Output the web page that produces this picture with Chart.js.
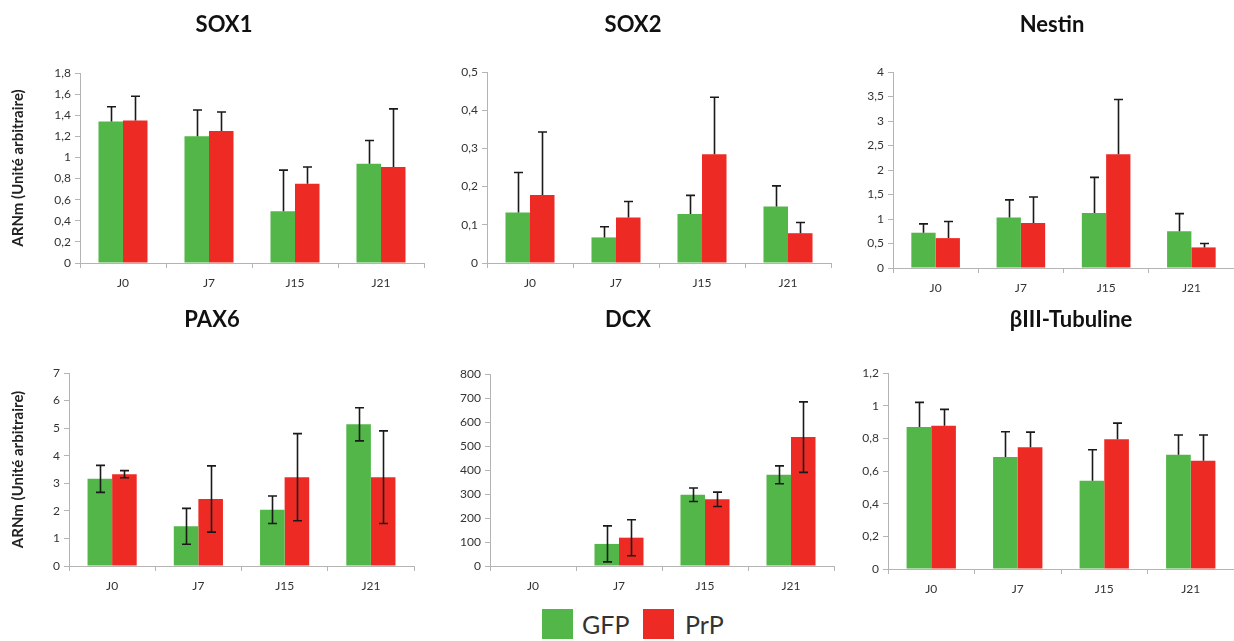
<!DOCTYPE html>
<html>
<head>
<meta charset="utf-8">
<script src="https://cdn.jsdelivr.net/npm/chart.js@4/dist/chart.umd.min.js"></script>
<style>
  html, body { margin: 0; padding: 0; background: #fff; width: 1234px; height: 641px; overflow: hidden; position: relative; font-family: Lato, "Open Sans", sans-serif; }
  canvas { position: absolute; }
  #legend { position: absolute; left: 0; top: 0; }
  .sw { position: absolute; width: 31px; height: 30px; }
  .lt { position: absolute; font-family: Lato, sans-serif; font-size: 25px; color: #333; line-height: 30px; }
</style>
</head>
<body>
<div id="legend">
  <div class="sw" style="left:542px; top:609px; background:#52b748;"></div>
  <div class="lt" style="left:582px; top:609px;">GFP</div>
  <div class="sw" style="left:643px; top:609px; background:#ed2b24;"></div>
  <div class="lt" style="left:685px; top:609px;">PrP</div>
</div>
<script>
// ---- data ----
const categories = ['J0', 'J7', 'J15', 'J21'];
const seriesNames = ['GFP', 'PrP'];
const yAxisTitle = 'ARNm (Unité arbitraire)';

const sox1GFP = [1.34, 1.20, 0.49, 0.94];
const sox1GFPErr = [0.14, 0.25, 0.39, 0.22];
const sox1PrP = [1.35, 1.25, 0.75, 0.91];
const sox1PrPErr = [0.23, 0.18, 0.16, 0.55];

const sox2GFP = [0.132, 0.067, 0.128, 0.148];
const sox2GFPErr = [0.105, 0.028, 0.049, 0.054];
const sox2PrP = [0.178, 0.119, 0.285, 0.078];
const sox2PrPErr = [0.165, 0.042, 0.149, 0.028];

const nestinGFP = [0.72, 1.03, 1.12, 0.75];
const nestinGFPErr = [0.18, 0.36, 0.73, 0.36];
const nestinPrP = [0.61, 0.92, 2.32, 0.42];
const nestinPrPErr = [0.34, 0.53, 1.12, 0.08];

const pax6GFP = [3.16, 1.44, 2.04, 5.14];
const pax6GFPErr = [0.49, 0.65, 0.50, 0.60];
const pax6PrP = [3.33, 2.43, 3.22, 3.22];
const pax6PrPErr = [0.13, 1.20, 1.58, 1.68];

const dcxGFP = [0, 92, 297, 380];
const dcxGFPErr = [0, 75, 28, 37];
const dcxPrP = [0, 118, 278, 537];
const dcxPrPErr = [0, 75, 30, 147];

const tubGFP = [0.87, 0.685, 0.54, 0.70];
const tubGFPErr = [0.15, 0.155, 0.19, 0.12];
const tubPrP = [0.877, 0.745, 0.795, 0.662];
const tubPrPErr = [0.10, 0.093, 0.098, 0.158];

// ---- styles ----
const GREEN = '#52b748';
const RED = '#ed2b24';
const AXIS = '#b4b4b4';
const FONT = 'Lato, "Open Sans", sans-serif';

const errorBarPlugin = {
  id: 'errorBars',
  afterDatasetsDraw(chart, args, opts) {
    const ctx = chart.ctx;
    const ys = chart.scales.y;
    ctx.save();
    ctx.strokeStyle = '#1a1a1a';
    ctx.lineWidth = 1.6;
    chart.data.datasets.forEach((ds, i) => {
      const meta = chart.getDatasetMeta(i);
      meta.data.forEach((el, j) => {
        const v = ds.data[j], e = ds.errors[j];
        if (!e) return;
        const x = Math.round(el.x) + 0.5;
        const yv = ys.getPixelForValue(v);
        const yt = ys.getPixelForValue(v + e);
        const yb = opts.twoSided ? ys.getPixelForValue(v - e) : yv;
        ctx.beginPath();
        ctx.moveTo(x, yb); ctx.lineTo(x, yt);
        ctx.moveTo(x - 4.5, yt); ctx.lineTo(x + 4.5, yt);
        if (opts.twoSided) { ctx.moveTo(x - 4.5, yb); ctx.lineTo(x + 4.5, yb); }
        ctx.stroke();
      });
    });
    ctx.restore();
  }
};

function fmt(v) {
  return String(Number(v.toFixed(3))).replace('.', ',');
}

function makePanel(p) {
  const c = document.createElement('canvas');
  const H = p.bottom - p.y0 + 32;
  c.width = p.W; c.height = H;
  c.style.left = p.x0 + 'px'; c.style.top = p.y0 + 'px';
  c.style.width = p.W + 'px'; c.style.height = H + 'px';
  document.body.appendChild(c);
  const titleLH = 26.4;
  const p1 = p.titleMid - p.y0 - titleLH / 2;
  const p2 = p.top - p.y0 - p1 - titleLH;
  new Chart(c, {
    type: 'bar',
    data: {
      labels: categories,
      datasets: [
        { label: seriesNames[0], data: p.gfp, errors: p.gfpErr, backgroundColor: GREEN, yAxisID: 'y',
          categoryPercentage: 0.57, barPercentage: 1.0 },
        { label: seriesNames[1], data: p.prp, errors: p.prpErr, backgroundColor: RED, yAxisID: 'y',
          categoryPercentage: 0.57, barPercentage: 1.0 }
      ]
    },
    options: {
      responsive: false, animation: false, devicePixelRatio: 1,
      layout: { padding: 0 },
      plugins: {
        legend: { display: false },
        tooltip: { enabled: false },
        title: { display: true, text: p.title, color: '#111',
          font: { family: FONT, size: 22, weight: 'bold', lineHeight: 1.2 },
          padding: { top: p1, bottom: p2 } },
        errorBars: { twoSided: p.twoSided }
      },
      scales: {
        x: {
          grid: { drawOnChartArea: false, color: AXIS, tickLength: 5, offset: true },
          border: { color: AXIS, width: 1 },
          ticks: { color: '#333', font: { family: FONT, size: 12 }, padding: 8 },
          afterFit: s => { s.height = 32; }
        },
        y: {
          min: 0, max: p.yMax,
          grid: { drawOnChartArea: false, color: AXIS, tickLength: 5 },
          border: { color: AXIS, width: 1 },
          ticks: { stepSize: p.step, color: '#333', font: { family: FONT, size: 12 }, padding: 4,
            callback: v => fmt(v) },
          title: { display: !!p.yTitle, text: yAxisTitle, color: '#222',
            font: { family: FONT, size: 15, weight: 'bold' }, padding: { top: 9, bottom: 0 } },
          afterFit: s => { s.width = p.left - p.x0; }
        },
        yR: {
          type: 'linear', position: 'right', display: true,
          grid: { display: false, drawTicks: false }, border: { display: false },
          ticks: { display: false },
          afterFit: s => { s.width = p.x0 + p.W - p.right; }
        }
      }
    },
    plugins: [errorBarPlugin]
  });
}

const panels = [
  { title: 'SOX1', x0: 0, y0: 0, W: 448, titleMid: 25, top: 73, bottom: 263, left: 80, right: 424,
    yMax: 1.8, step: 0.2, yTitle: true, twoSided: false,
    gfp: sox1GFP, gfpErr: sox1GFPErr, prp: sox1PrP, prpErr: sox1PrPErr },
  { title: 'SOX2', x0: 430, y0: 0, W: 406, titleMid: 25, top: 72, bottom: 263, left: 487, right: 831,
    yMax: 0.5, step: 0.1, yTitle: false, twoSided: false,
    gfp: sox2GFP, gfpErr: sox2GFPErr, prp: sox2PrP, prpErr: sox2PrPErr },
  { title: 'Nestin', x0: 860, y0: 0, W: 384, titleMid: 25, top: 72, bottom: 268, left: 893, right: 1234,
    yMax: 4, step: 0.5, yTitle: false, twoSided: false,
    gfp: nestinGFP, gfpErr: nestinGFPErr, prp: nestinPrP, prpErr: nestinPrPErr },
  { title: 'PAX6', x0: 0, y0: 290, W: 424, titleMid: 320, top: 373, bottom: 566, left: 69, right: 414,
    yMax: 7, step: 1, yTitle: true, twoSided: true,
    gfp: pax6GFP, gfpErr: pax6GFPErr, prp: pax6PrP, prpErr: pax6PrPErr },
  { title: 'DCX', x0: 420, y0: 290, W: 416, titleMid: 320, top: 374, bottom: 566, left: 490, right: 834,
    yMax: 800, step: 100, yTitle: false, twoSided: true,
    gfp: dcxGFP, gfpErr: dcxGFPErr, prp: dcxPrP, prpErr: dcxPrPErr },
  { title: 'βIII-Tubuline', x0: 840, y0: 290, W: 462, titleMid: 320, top: 373, bottom: 569, left: 888, right: 1234,
    yMax: 1.2, step: 0.2, yTitle: false, twoSided: false,
    gfp: tubGFP, gfpErr: tubGFPErr, prp: tubPrP, prpErr: tubPrPErr }
];

panels.forEach(makePanel);
</script>
</body>
</html>
